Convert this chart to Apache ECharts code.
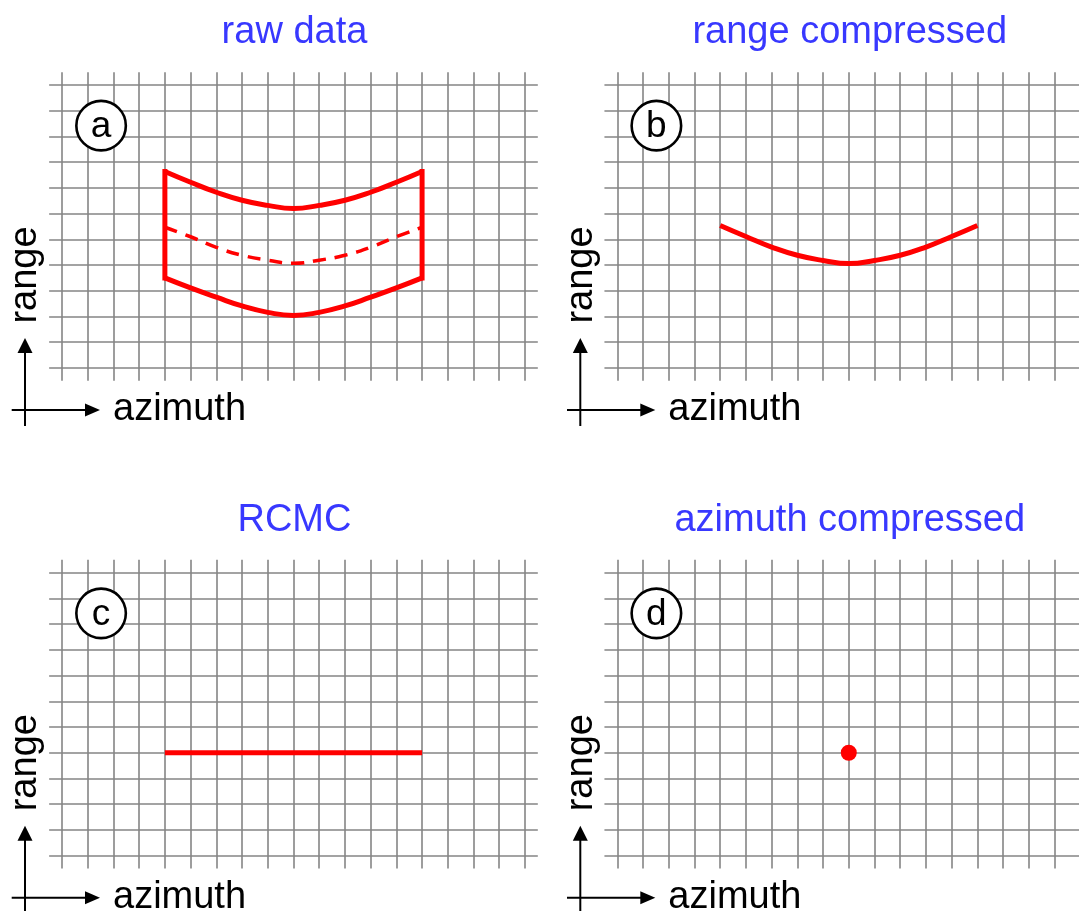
<!DOCTYPE html>
<html>
<head>
<meta charset="utf-8">
<title>SAR processing steps</title>
<script src="https://cdn.jsdelivr.net/npm/echarts@6/dist/echarts.min.js"></script>
<style>
  html, body { margin: 0; padding: 0; background: #ffffff; }
  #chart { width: 1079px; height: 911px; }
</style>
</head>
<body>
<div id="chart"></div>
<script>
// ---- data -------------------------------------------------------------
const panelTitles = ['raw data', 'range compressed', 'RCMC', 'azimuth compressed'];
const panelLetters = ['a', 'b', 'c', 'd'];

// azimuth columns covered by the target's echo
const azimuthBins = [4, 5, 6, 7, 8, 9, 10, 11, 12, 13, 14];

// (a) raw data: upper edge, centre (dashed) and lower edge of the echo, in range cells
const rawUpperEdge = [7.64, 7.22, 6.83, 6.52, 6.32, 6.20, 6.32, 6.52, 6.83, 7.22, 7.64];
const rawCentreLine = [5.47, 5.10, 4.69, 4.38, 4.19, 4.07, 4.19, 4.38, 4.69, 5.10, 5.47];
const rawLowerEdge = [3.50, 3.11, 2.75, 2.41, 2.16, 2.04, 2.16, 2.41, 2.75, 3.11, 3.50];

// (b) after range compression: the range cell migration curve
const rangeCompressedLine = [5.54, 5.11, 4.70, 4.38, 4.18, 4.06, 4.18, 4.38, 4.70, 5.11, 5.54];

// (c) after RCMC: all energy in one range cell
const rcmcLine = [4, 4, 4, 4, 4, 4, 4, 4, 4, 4, 4];

// (d) after azimuth compression: a single point target
const focusedTarget = [9, 4];

// position of the panel letter badge, in grid cells
const badgeCell = [1.52, 9.42];

// grid extent in cells
const azimuthCells = 18;
const rangeCells = 11;

// ---- layout -----------------------------------------------------------
const CELL = 25.72;
const panelOrigin = [
  { left: 62.0, top: 85.0 },
  { left: 617.3, top: 85.0 },
  { left: 62.0, top: 572.7 },
  { left: 617.3, top: 572.7 }
];
const FONT = '"Liberation Sans", Arial, Helvetica, sans-serif';
const FONT_SIZE = 38;
const RED = '#ff0000';
const GRID_LINE = { color: '#858585', width: 1.6 };
const TITLE_BLUE = '#3838ff';
const STROKE = 5;

const grids = [], xAxes = [], yAxes = [], series = [], graphics = [];

panelOrigin.forEach((o, p) => {
  const w = azimuthCells * CELL, h = rangeCells * CELL;
  // vertical grid lines (reach half a cell past the outer rows)
  grids.push({ left: o.left, top: o.top - CELL / 2, width: w, height: h + CELL, outerBoundsMode: 'none', containLabel: false });
  // horizontal grid lines (reach half a cell past the outer columns)
  grids.push({ left: o.left - CELL / 2, top: o.top, width: w + CELL, height: h, outerBoundsMode: 'none', containLabel: false });
  // plotting area
  grids.push({ left: o.left, top: o.top, width: w, height: h, outerBoundsMode: 'none', containLabel: false });

  const gv = 3 * p, gh = 3 * p + 1, gd = 3 * p + 2;
  const hidden = { axisLine: { show: false }, axisTick: { show: false }, axisLabel: { show: false } };

  xAxes.push(Object.assign({ type: 'value', gridIndex: gv, min: 0, max: azimuthCells, interval: 1,
    splitLine: { show: true, lineStyle: GRID_LINE } }, hidden));
  yAxes.push({ type: 'value', gridIndex: gv, min: 0, max: 1, show: false });

  xAxes.push({ type: 'value', gridIndex: gh, min: 0, max: 1, show: false });
  yAxes.push(Object.assign({ type: 'value', gridIndex: gh, min: 0, max: rangeCells, interval: 1,
    splitLine: { show: true, lineStyle: GRID_LINE } }, hidden));

  xAxes.push({ type: 'value', gridIndex: gd, min: 0, max: azimuthCells, show: false });
  yAxes.push({ type: 'value', gridIndex: gd, min: 0, max: rangeCells, show: false });

  // letter badge
  series.push({
    type: 'scatter', xAxisIndex: gd, yAxisIndex: gd, z: 5, silent: true,
    symbol: 'circle', symbolSize: 49.5,
    itemStyle: { color: '#ffffff', borderColor: '#000000', borderWidth: 2.6, opacity: 1 },
    label: { show: true, position: 'inside', formatter: panelLetters[p],
      fontSize: 37, fontFamily: FONT, color: '#000000', offset: [0, 1] },
    data: [badgeCell]
  });

  // panel title
  const cx = o.left + w / 2 + 1;
  graphics.push({
    type: 'text', x: cx, y: o.top - 52, silent: true,
    style: { text: panelTitles[p], fill: TITLE_BLUE, fontSize: FONT_SIZE, fontFamily: FONT,
      align: 'center', verticalAlign: 'middle', textAlign: 'center', textVerticalAlign: 'middle' }
  });

  // axis direction arrows and names
  const ax = o.left - 37, ay = o.top + 325;
  graphics.push({ type: 'line', silent: true, shape: { x1: ax - 13.3, y1: ay, x2: ax + 62, y2: ay },
    style: { stroke: '#000', lineWidth: 2 } });
  graphics.push({ type: 'polygon', silent: true,
    shape: { points: [[ax + 75, ay], [ax + 60, ay - 6.5], [ax + 60, ay + 6.5]] }, style: { fill: '#000' } });
  graphics.push({ type: 'line', silent: true, shape: { x1: ax, y1: ay + 16, x2: ax, y2: ay - 60 },
    style: { stroke: '#000', lineWidth: 2 } });
  graphics.push({ type: 'polygon', silent: true,
    shape: { points: [[ax, ay - 72], [ax - 7.5, ay - 57], [ax + 7.5, ay - 57]] }, style: { fill: '#000' } });
  graphics.push({
    type: 'text', x: ax + 88, y: ay, silent: true,
    style: { text: 'azimuth', fill: '#000', fontSize: FONT_SIZE, fontFamily: FONT,
      align: 'left', verticalAlign: 'middle', textAlign: 'left', textVerticalAlign: 'middle' }
  });
  graphics.push({
    type: 'text', x: ax + 1, y: ay - 135, rotation: Math.PI / 2, silent: true,
    style: { text: 'range', fill: '#000', fontSize: FONT_SIZE, fontFamily: FONT,
      align: 'center', verticalAlign: 'middle', textAlign: 'center', textVerticalAlign: 'middle' }
  });
});

const pairs = (xs, ys) => xs.map((x, i) => [x, ys[i]]);
const first = azimuthBins[0], last = azimuthBins[azimuthBins.length - 1];
const curve = (grid, data, extra) => Object.assign({
  type: 'line', xAxisIndex: grid, yAxisIndex: grid, data, smooth: true,
  symbol: 'none', silent: true, z: 3,
  lineStyle: { color: RED, width: STROKE }
}, extra || {});

// (a) raw data
series.push(curve(2, pairs(azimuthBins, rawUpperEdge)));
series.push(curve(2, pairs(azimuthBins, rawLowerEdge)));
series.push(curve(2, pairs(azimuthBins, rawCentreLine), { lineStyle: { color: RED, width: 3.5, type: [13, 9] } }));
series.push(curve(2, [[first, rawLowerEdge[0]], [first, rawUpperEdge[0]]], { smooth: false, lineStyle: { color: RED, width: STROKE, cap: 'square' } }));
series.push(curve(2, [[last, rawLowerEdge[rawLowerEdge.length - 1]], [last, rawUpperEdge[rawUpperEdge.length - 1]]], { smooth: false, lineStyle: { color: RED, width: STROKE, cap: 'square' } }));

// (b) range compressed
series.push(curve(5, pairs(azimuthBins, rangeCompressedLine)));

// (c) RCMC
series.push(curve(8, pairs(azimuthBins, rcmcLine), { smooth: false }));

// (d) azimuth compressed
series.push({
  type: 'scatter', xAxisIndex: 11, yAxisIndex: 11, silent: true, z: 3,
  symbol: 'circle', symbolSize: 16, itemStyle: { color: RED, opacity: 1 },
  data: [focusedTarget]
});

const chart = echarts.init(document.getElementById('chart'), null, { renderer: 'canvas' });
chart.setOption({
  animation: false,
  backgroundColor: '#ffffff',
  grid: grids,
  xAxis: xAxes,
  yAxis: yAxes,
  series: series,
  graphic: { elements: graphics }
});
</script>
</body>
</html>
